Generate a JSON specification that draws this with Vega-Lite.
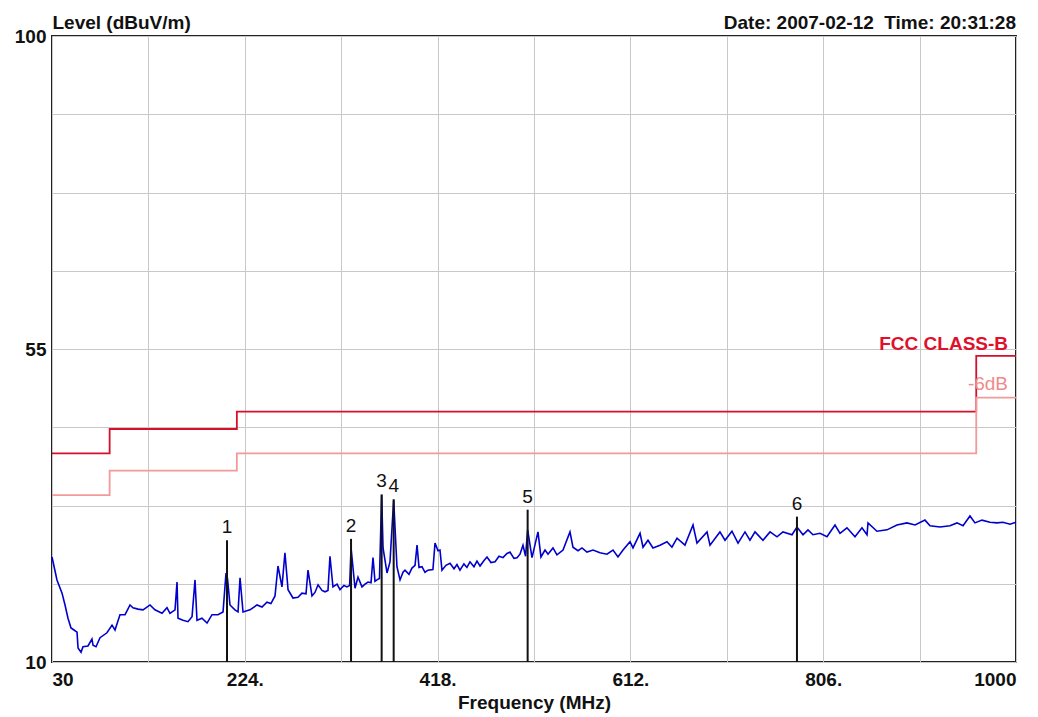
{
  "$schema": "https://vega.github.io/schema/vega-lite/v6.json",
  "width": 964,
  "height": 626,
  "autosize": {"type": "none"},
  "padding": {"left": 52, "top": 36, "right": 22, "bottom": 55},
  "background": "white",
  "title": {
    "text": "Date: 2007-02-12\u00a0 Time: 20:31:28",
    "anchor": "end",
    "frame": "group",
    "font": "Liberation Sans",
    "fontSize": 19,
    "fontWeight": "bold",
    "color": "#111111",
    "offset": -35,
    "baseline": "alphabetic"
  },
  "config": {
    "view": {"stroke": "#222222", "strokeWidth": 2},
    "font": "Liberation Sans"
  },
  "datasets": {
    "limits": [
      {"f": 30, "level": 40, "series": "FCC CLASS-B"},
      {"f": 88, "level": 43.5, "series": "FCC CLASS-B"},
      {"f": 216, "level": 46, "series": "FCC CLASS-B"},
      {"f": 960, "level": 54, "series": "FCC CLASS-B"},
      {"f": 1000, "level": 54, "series": "FCC CLASS-B"},
      {"f": 30, "level": 34, "series": "-6dB"},
      {"f": 88, "level": 37.5, "series": "-6dB"},
      {"f": 216, "level": 40, "series": "-6dB"},
      {"f": 960, "level": 48, "series": "-6dB"},
      {"f": 1000, "level": 48, "series": "-6dB"}
    ],
    "trace": [
      {"f": 30, "level": 25.1}, {"f": 35.0, "level": 21.8}, {"f": 40.1, "level": 19.9},
      {"f": 43.1, "level": 18.2}, {"f": 46.1, "level": 16.3}, {"f": 49.1, "level": 14.9},
      {"f": 52.1, "level": 14.6}, {"f": 55.2, "level": 14.3}, {"f": 56.2, "level": 12.0},
      {"f": 59.2, "level": 11.4}, {"f": 61.2, "level": 12.2}, {"f": 66.2, "level": 12.3},
      {"f": 70.2, "level": 13.3}, {"f": 71.3, "level": 12.4}, {"f": 74.3, "level": 12.2},
      {"f": 78.3, "level": 13.5}, {"f": 85.3, "level": 14.2}, {"f": 90.4, "level": 15.3},
      {"f": 93.4, "level": 14.6}, {"f": 98.4, "level": 16.8}, {"f": 103.5, "level": 16.8},
      {"f": 108.5, "level": 18.2}, {"f": 111.5, "level": 17.8}, {"f": 116.5, "level": 17.6},
      {"f": 121.6, "level": 17.5}, {"f": 128.6, "level": 18.2}, {"f": 133.6, "level": 17.5},
      {"f": 140.7, "level": 17.0}, {"f": 145.7, "level": 17.8}, {"f": 148.7, "level": 17.0},
      {"f": 153.8, "level": 17.5}, {"f": 155.8, "level": 21.5}, {"f": 156.8, "level": 16.3},
      {"f": 161.8, "level": 16.0}, {"f": 166.8, "level": 15.8}, {"f": 170.9, "level": 16.5},
      {"f": 173.9, "level": 21.8}, {"f": 175.9, "level": 16.0}, {"f": 180.9, "level": 16.3},
      {"f": 186.0, "level": 15.6}, {"f": 191.0, "level": 16.8}, {"f": 197.0, "level": 16.8},
      {"f": 202.1, "level": 17.2}, {"f": 205.1, "level": 22.8}, {"f": 206.6, "level": 22.0},
      {"f": 209.1, "level": 18.2}, {"f": 214.1, "level": 17.5}, {"f": 217.2, "level": 17.2},
      {"f": 219.2, "level": 22.1}, {"f": 222.2, "level": 17.2}, {"f": 229.2, "level": 17.5},
      {"f": 236.3, "level": 18.2}, {"f": 241.3, "level": 17.9}, {"f": 246.3, "level": 18.6},
      {"f": 250.3, "level": 18.4}, {"f": 254.4, "level": 19.5}, {"f": 257.4, "level": 23.8},
      {"f": 261.4, "level": 20.8}, {"f": 264.4, "level": 25.7}, {"f": 267.5, "level": 20.4},
      {"f": 272.5, "level": 19.2}, {"f": 277.5, "level": 19.3}, {"f": 281.5, "level": 19.9},
      {"f": 285.6, "level": 19.8}, {"f": 287.6, "level": 23.2}, {"f": 291.6, "level": 19.5},
      {"f": 294.6, "level": 20.0}, {"f": 297.7, "level": 21.1}, {"f": 301.7, "level": 20.3},
      {"f": 304.7, "level": 20.1}, {"f": 307.7, "level": 20.3}, {"f": 309.7, "level": 25.2},
      {"f": 312.7, "level": 20.8}, {"f": 316.8, "level": 21.2}, {"f": 319.8, "level": 20.4},
      {"f": 323.8, "level": 21.0}, {"f": 326.8, "level": 20.8}, {"f": 329.5, "level": 21.0},
      {"f": 330.9, "level": 26.4}, {"f": 334.9, "level": 20.6}, {"f": 337.9, "level": 22.2},
      {"f": 341.9, "level": 20.8}, {"f": 345.0, "level": 21.2}, {"f": 348.0, "level": 21.5},
      {"f": 351.0, "level": 21.4}, {"f": 353.0, "level": 25.0}, {"f": 355.0, "level": 21.6},
      {"f": 357.0, "level": 21.8}, {"f": 359.5, "level": 22.0}, {"f": 361.7, "level": 34.0},
      {"f": 363.1, "level": 26.4}, {"f": 367.1, "level": 22.8}, {"f": 370.1, "level": 24.4},
      {"f": 373.8, "level": 33.3}, {"f": 377.1, "level": 23.7}, {"f": 380.2, "level": 21.8},
      {"f": 383.2, "level": 22.9}, {"f": 385.2, "level": 23.2}, {"f": 389.2, "level": 22.6},
      {"f": 392.2, "level": 23.5}, {"f": 395.3, "level": 23.9}, {"f": 397.3, "level": 26.8},
      {"f": 399.3, "level": 23.6}, {"f": 402.3, "level": 23.7}, {"f": 405.3, "level": 22.9},
      {"f": 408.3, "level": 23.2}, {"f": 413.3, "level": 23.3}, {"f": 415.4, "level": 27.1},
      {"f": 418.4, "level": 26.0}, {"f": 420.4, "level": 26.1}, {"f": 422.4, "level": 23.2},
      {"f": 426.4, "level": 23.9}, {"f": 430.5, "level": 24.2}, {"f": 434.5, "level": 23.4},
      {"f": 437.5, "level": 24.0}, {"f": 440.5, "level": 23.2}, {"f": 444.5, "level": 24.1},
      {"f": 447.5, "level": 23.6}, {"f": 450.6, "level": 24.4}, {"f": 454.6, "level": 23.7},
      {"f": 457.6, "level": 24.5}, {"f": 460.7, "level": 23.8}, {"f": 464.7, "level": 24.6},
      {"f": 467.7, "level": 25.1}, {"f": 471.7, "level": 24.3}, {"f": 475.8, "level": 24.4},
      {"f": 479.8, "level": 25.2}, {"f": 483.8, "level": 25.0}, {"f": 487.8, "level": 25.6},
      {"f": 490.8, "level": 25.8}, {"f": 494.8, "level": 24.9}, {"f": 497.9, "level": 25.0},
      {"f": 500.9, "level": 25.5}, {"f": 503.9, "level": 26.8}, {"f": 506.5, "level": 25.2},
      {"f": 508.6, "level": 29.0}, {"f": 513.0, "level": 25.0}, {"f": 519.0, "level": 28.7},
      {"f": 522.0, "level": 25.1}, {"f": 526.1, "level": 26.1}, {"f": 529.1, "level": 25.5},
      {"f": 534.1, "level": 26.4}, {"f": 538.1, "level": 25.4}, {"f": 544.2, "level": 26.1},
      {"f": 551.2, "level": 28.7}, {"f": 554.2, "level": 26.5}, {"f": 559.3, "level": 26.0},
      {"f": 563.3, "level": 26.4}, {"f": 568.3, "level": 25.8}, {"f": 574.4, "level": 26.1},
      {"f": 581.4, "level": 25.7}, {"f": 588.4, "level": 25.5}, {"f": 594.5, "level": 26.1},
      {"f": 599.5, "level": 25.1}, {"f": 604.6, "level": 26.1}, {"f": 611.6, "level": 27.3},
      {"f": 614.6, "level": 26.4}, {"f": 621.7, "level": 28.5}, {"f": 624.7, "level": 26.5},
      {"f": 629.7, "level": 27.5}, {"f": 634.7, "level": 26.4}, {"f": 641.8, "level": 26.8},
      {"f": 648.8, "level": 27.3}, {"f": 653.8, "level": 26.5}, {"f": 658.9, "level": 27.8},
      {"f": 666.9, "level": 26.8}, {"f": 675.0, "level": 29.7}, {"f": 679.0, "level": 27.1},
      {"f": 689.1, "level": 28.7}, {"f": 692.1, "level": 26.8}, {"f": 702.1, "level": 28.7},
      {"f": 707.2, "level": 27.5}, {"f": 714.2, "level": 28.8}, {"f": 720.3, "level": 27.1},
      {"f": 727.3, "level": 28.7}, {"f": 732.3, "level": 27.5}, {"f": 737.4, "level": 28.7},
      {"f": 745.4, "level": 27.5}, {"f": 752.5, "level": 28.7}, {"f": 759.5, "level": 28.0},
      {"f": 765.5, "level": 28.7}, {"f": 774.6, "level": 28.3}, {"f": 779.6, "level": 29.4},
      {"f": 785.7, "level": 28.3}, {"f": 790.7, "level": 29.0}, {"f": 795.7, "level": 28.3},
      {"f": 802.8, "level": 28.5}, {"f": 809.8, "level": 28.0}, {"f": 817.9, "level": 29.7},
      {"f": 822.9, "level": 28.5}, {"f": 829.9, "level": 29.3}, {"f": 838.0, "level": 28.0},
      {"f": 845.0, "level": 29.3}, {"f": 850.1, "level": 28.3}, {"f": 851.1, "level": 30.0},
      {"f": 860.1, "level": 28.8}, {"f": 870.2, "level": 29.0}, {"f": 880.2, "level": 29.7},
      {"f": 890.3, "level": 30.0}, {"f": 898.4, "level": 29.7}, {"f": 908.4, "level": 30.4},
      {"f": 913.5, "level": 29.6}, {"f": 923.5, "level": 29.4}, {"f": 933.6, "level": 29.6},
      {"f": 940.6, "level": 30.0}, {"f": 946.7, "level": 29.6}, {"f": 953.7, "level": 31.0},
      {"f": 958.7, "level": 30.0}, {"f": 965.8, "level": 30.4}, {"f": 973.8, "level": 30.1},
      {"f": 980.9, "level": 30.0}, {"f": 986.9, "level": 30.1}, {"f": 994.0, "level": 29.8},
      {"f": 1000, "level": 30.1}
    ],
    "markers": [
      {"n": "1", "f": 206.1, "level": 27.5},
      {"n": "2", "f": 330.9, "level": 27.7},
      {"n": "3", "f": 361.7, "level": 34.1},
      {"n": "4", "f": 373.8, "level": 33.4},
      {"n": "5", "f": 508.6, "level": 31.9},
      {"n": "6", "f": 779.6, "level": 30.9}
    ],
    "limitLabels": [
      {"label": "FCC CLASS-B", "f": 992, "level": 55.7},
      {"label": "-6dB", "f": 992, "level": 50.0}
    ]
  },
  "layer": [
    {
      "data": {"name": "limits"},
      "mark": {"type": "line", "interpolate": "step-after", "strokeWidth": 1.8},
      "encoding": {
        "x": {
          "field": "f",
          "type": "quantitative",
          "scale": {"domain": [30, 1000], "nice": false, "zero": false},
          "axis": {
            "values": [30, 127, 224, 321, 418, 515, 612, 709, 806, 903, 1000],
            "format": "d",
            "labelExpr": "datum.value == 30 || datum.value == 1000 ? datum.label : (indexof([224, 418, 612, 806], datum.value) >= 0 ? datum.label + '.' : '')",
            "labelFlush": true,
            "grid": true,
            "gridColor": "#c8c8c8",
            "gridWidth": 1,
            "domain": false,
            "ticks": false,
            "labelFont": "Liberation Sans",
            "labelFontSize": 19,
            "labelFontWeight": "bold",
            "labelColor": "#111111",
            "labelPadding": 8,
            "title": "Frequency (MHz)",
            "titleFont": "Liberation Sans",
            "titleFontSize": 19,
            "titleFontWeight": "bold",
            "titleColor": "#111111",
            "titlePadding": 4
          }
        },
        "y": {
          "field": "level",
          "type": "quantitative",
          "scale": {"domain": [10, 100], "nice": false, "zero": false},
          "axis": {
            "values": [10, 21.25, 32.5, 43.75, 55, 66.25, 77.5, 88.75, 100],
            "labelExpr": "datum.value == 10 || datum.value == 55 || datum.value == 100 ? datum.label : ''",
            "grid": true,
            "gridColor": "#c8c8c8",
            "gridWidth": 1,
            "domain": false,
            "ticks": false,
            "labelFont": "Liberation Sans",
            "labelFontSize": 19,
            "labelFontWeight": "bold",
            "labelColor": "#111111",
            "labelPadding": 6,
            "title": "Level (dBuV/m)",
            "titleAngle": 0,
            "titleAlign": "left",
            "titleBaseline": "alphabetic",
            "titleX": 0,
            "titleY": -8,
            "titleFont": "Liberation Sans",
            "titleFontSize": 19,
            "titleFontWeight": "bold",
            "titleColor": "#111111"
          }
        },
        "color": {
          "field": "series",
          "type": "nominal",
          "scale": {"domain": ["FCC CLASS-B", "-6dB"], "range": ["#d4102c", "#f29a9a"]},
          "legend": null
        }
      }
    },
    {
      "data": {"name": "trace"},
      "mark": {"type": "line", "color": "#0000cc", "strokeWidth": 1.6},
      "encoding": {
        "x": {"field": "f", "type": "quantitative"},
        "y": {"field": "level", "type": "quantitative"}
      }
    },
    {
      "data": {"name": "markers"},
      "mark": {"type": "rule", "color": "#111111", "strokeWidth": 2},
      "encoding": {
        "x": {"field": "f", "type": "quantitative"},
        "y": {"field": "level", "type": "quantitative"},
        "y2": {"datum": 10}
      }
    },
    {
      "data": {"name": "markers"},
      "mark": {"type": "text", "baseline": "bottom", "dy": -3, "fontSize": 19, "font": "Liberation Sans", "color": "#111111"},
      "encoding": {
        "x": {"field": "f", "type": "quantitative"},
        "y": {"field": "level", "type": "quantitative"},
        "text": {"field": "n"}
      }
    },
    {
      "data": {"name": "limitLabels"},
      "transform": [{"filter": "datum.label == 'FCC CLASS-B'"}],
      "mark": {"type": "text", "align": "right", "baseline": "middle", "fontSize": 19, "fontWeight": "bold", "font": "Liberation Sans", "color": "#e0102c"},
      "encoding": {
        "x": {"field": "f", "type": "quantitative"},
        "y": {"field": "level", "type": "quantitative"},
        "text": {"field": "label"}
      }
    },
    {
      "data": {"name": "limitLabels"},
      "transform": [{"filter": "datum.label == '-6dB'"}],
      "mark": {"type": "text", "align": "right", "baseline": "middle", "fontSize": 19, "font": "Liberation Sans", "color": "#f08a8a"},
      "encoding": {
        "x": {"field": "f", "type": "quantitative"},
        "y": {"field": "level", "type": "quantitative"},
        "text": {"field": "label"}
      }
    }
  ]
}
